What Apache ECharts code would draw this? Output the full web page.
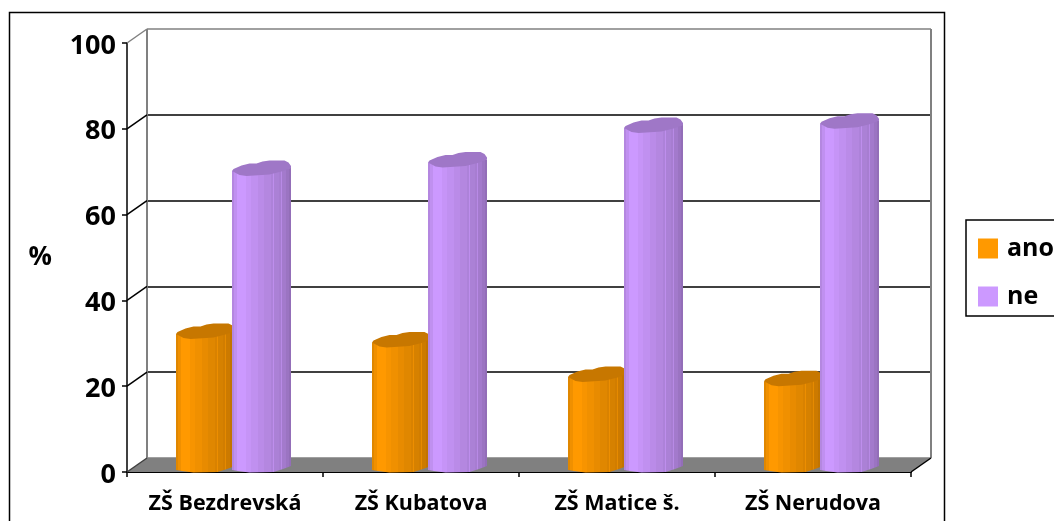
<!DOCTYPE html>
<html><head><meta charset="utf-8">
<style>html,body{margin:0;padding:0;background:#fff}#c{width:1054px;height:521px}</style>
<script src="https://cdn.jsdelivr.net/npm/echarts@6/dist/echarts.min.js"></script>
</head><body><div id="c"></div>
<script>
const categories = ['ZŠ Bezdrevská', 'ZŠ Kubatova', 'ZŠ Matice š.', 'ZŠ Nerudova'];
const ano = [31, 29, 21, 20];
const ne = [69, 71, 79, 80];
const yTicks = [0, 20, 40, 60, 80, 100];

const FONT = '"Open Sans", Lato, sans-serif';
const DX = 20, DY = 14;
const bands = [[0,.88],[.03,.94],[.08,1],[.24,.97],[.33,.94],[.44,.91],[.55,.88],[.66,.85],[.70,.93],[.715,.84],[.80,.82],[.83,.90],[.85,.80],[.92,.76],[.96,.72],[1,.72]];
function shade(hex, k){
  const n = parseInt(hex.slice(1),16);
  return 'rgb('+[n>>16,(n>>8)&255,n&255].map(v=>Math.round(v*k)).join(',')+')';
}
function bandFill(hex){
  const st=[];
  bands.forEach((b,i)=>{
    const end = i<bands.length-1?bands[i+1][0]:1;
    st.push({offset:b[0],color:shade(hex,b[1])},{offset:end,color:shade(hex,b[1])});
  });
  return new echarts.graphic.LinearGradient(0,0,1,0,st);
}
const topShape = [[-29.5,2],[-28,0],[-20,-3.5],[-12,-5.5],[-5,-5.5],[1,-7.5],[8,-8.5],[23,-8.5],[27,-6.5],[29.5,-3],[29.5,-1],[20,2.5],[8,5.5],[-15,7],[-22,6],[-29.5,2]];
function cylinder(hex, offset){
  return function(params, api){
    const p = api.coord([api.value(0), api.value(1)]);
    const cx = p[0] + DX/2 - 1.5 + offset;
    const top = p[1] - DY/2;
    const base = params.coordSys.y + params.coordSys.height - DY/2;
    const w = 29.5;
    const body = [[cx-w,top+2],[cx+w,top-1],[cx+w,base+1],[cx+w-8,base+4],[cx+12,base+7],[cx-12,base+7.5],[cx-w+6,base+6],[cx-w,base+5]];
    return {type:'group',children:[
      {type:'polygon',shape:{points:body},style:{fill:bandFill(hex)}},
      {type:'polygon',shape:{points:topShape.map(q=>[cx+q[0],top+q[1]])},style:{fill:shade(hex,.78)}}
    ]};
  };
}
function frame(params, api){
  const g = params.coordSys, x0=g.x, x1=g.x+g.width, y0=g.y+g.height;
  const line=(a,b,c,d,col,wd)=>({type:'line',shape:{x1:a,y1:b,x2:c,y2:d},style:{stroke:col,lineWidth:wd||1.5}});
  const kids = [
    {type:'polygon',shape:{points:[[x0,y0],[x1,y0],[x1+DX,y0-DY],[x0+DX,y0-DY]]},style:{fill:'#808080'}},
    line(x0+DX,g.y-DY,x0+DX,y0-DY,'#808080',2),
    line(x1+DX,g.y-DY,x1+DX,y0-DY,'#808080',2),
    line(x1,y0,x1+DX,y0-DY,'#000')
  ];
  yTicks.forEach(t=>{
    const y = api.coord([0,t])[1];
    kids.push(line(x0,y,x0+DX,y-DY,t===100?'#808080':(t===0?'#404040':'#000')));
  });
  return {type:'group',children:kids};
}
const chart = echarts.init(document.getElementById('c'),null,{renderer:'canvas'});
chart.setOption({
  animation:false,
  backgroundColor:'#fff',
  graphic:[{type:'rect',silent:true,z:0,shape:{x:9.5,y:12.5,width:935,height:530},style:{fill:'none',stroke:'#000',lineWidth:1.5}}],
  legend:{
    orient:'vertical',left:966,top:220,itemWidth:20,itemHeight:20,itemGap:23,
    padding:[16,40,7,12],borderColor:'#000',borderWidth:1.5,
    textStyle:{fontFamily:FONT,fontWeight:'bold',fontSize:25,lineHeight:20,color:'#000',padding:[0,0,0,4]},
    data:[{name:'ano',icon:'rect',itemStyle:{color:'#FF9900'}},{name:'ne',icon:'rect',itemStyle:{color:'#CC99FF'}}]
  },
  grid:[
    {left:147,top:29,width:784,height:429},
    {left:127,top:43,width:784,height:429}
  ],
  xAxis:[
    {type:'category',gridIndex:0,data:categories,show:false},
    {type:'category',gridIndex:1,data:categories,
     axisLine:{onZero:false,lineStyle:{color:'#000',width:2}},
     axisTick:{show:true,length:5,alignWithLabel:false,lineStyle:{color:'#000',width:1.5}},
     axisLabel:{color:'#000',fontFamily:FONT,fontWeight:'bold',fontSize:21.5,margin:21,interval:0}}
  ],
  yAxis:[
    {type:'value',gridIndex:0,min:0,max:100,interval:20,
     axisLine:{show:false},axisTick:{show:false},axisLabel:{show:false},
     splitLine:{show:true,lineStyle:{color:['#808080','#000','#000','#000','#000','#808080'],width:1.5}}},
    {type:'value',gridIndex:1,min:0,max:100,interval:20,
     name:'%',nameLocation:'middle',nameRotate:0,nameGap:75,
     nameTextStyle:{color:'#000',fontFamily:FONT,fontWeight:'bold',fontSize:26},
     axisLine:{show:true,lineStyle:{color:'#000',width:1.5}},
     axisTick:{show:true,length:5,lineStyle:{color:'#000',width:1.5}},
     axisLabel:{color:'#000',fontFamily:FONT,fontWeight:'bold',fontSize:27,margin:11,verticalAlign:'top',lineHeight:6},
     splitLine:{show:false}}
  ],
  series:[
    {type:'custom',name:'frame',xAxisIndex:1,yAxisIndex:1,z:1,silent:true,clip:false,renderItem:frame,data:[[0,0]]},
    {type:'custom',name:'ano',xAxisIndex:1,yAxisIndex:1,z:3,clip:false,itemStyle:{color:'#FF9900'},
     renderItem:cylinder('#FF9900',-28),data:categories.map((c,i)=>[i,ano[i]]),encode:{x:0,y:1}},
    {type:'custom',name:'ne',xAxisIndex:1,yAxisIndex:1,z:4,clip:false,itemStyle:{color:'#CC99FF'},
     renderItem:cylinder('#CC99FF',28),data:categories.map((c,i)=>[i,ne[i]]),encode:{x:0,y:1}}
  ]
});
</script></body></html>
